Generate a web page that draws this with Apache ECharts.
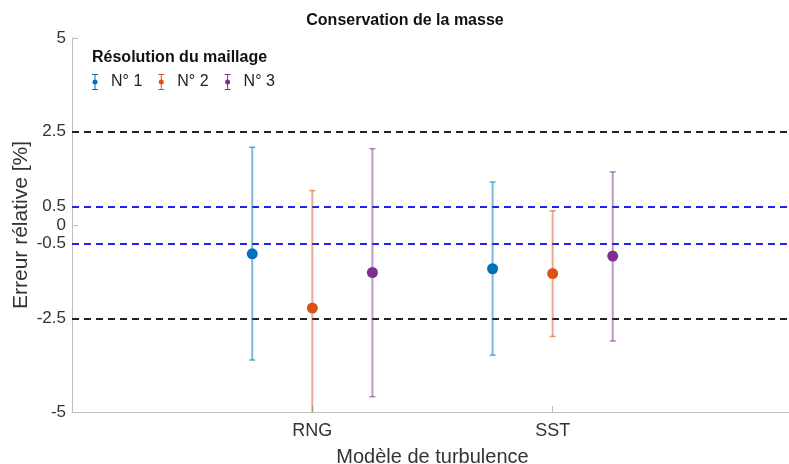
<!DOCTYPE html>
<html>
<head>
<meta charset="utf-8">
<script src="https://cdn.jsdelivr.net/npm/echarts@6/dist/echarts.min.js"></script>
<style>html,body{margin:0;padding:0;background:#fff;}#c{width:789px;height:464px;}</style>
</head>
<body>
<div id="c"></div>
<script>
// ---- data ----
const categories = ['RNG', 'SST'];
const seriesNames = ['N° 1', 'N° 2', 'N° 3'];
const n1Mean = [-0.77, -1.17];
const n1Low  = [-3.61, -3.48];
const n1High = [2.08, 1.15];
const n2Mean = [-2.22, -1.30];
const n2Low  = [-5.36, -2.98];
const n2High = [0.92, 0.38];
const n3Mean = [-1.27, -0.83];
const n3Low  = [-4.59, -3.10];
const n3High = [2.04, 1.42];
const yTicks = [-5, -2.5, -0.5, 0, 0.5, 2.5, 5];
const blackRefs = [2.5, -2.5];
const blueRefs = [0.5, -0.5];

const colors = ['#0072BD', '#D95319', '#7E2F8E'];
const dodge = [-0.25, 0, 0.25];
const groups = [[n1Mean, n1Low, n1High], [n2Mean, n2Low, n2High], [n3Mean, n3Low, n3High]];

const FONT = 'Liberation Sans, Arial, Helvetica, sans-serif';
const chart = echarts.init(document.getElementById('c'), null, {renderer: 'canvas'});

function makeRender(color) {
  return function (params, api) {
    const x = api.value(0);
    const m = api.coord([x, api.value(1)]);
    const lo = api.coord([x, api.value(2)]);
    const hi = api.coord([x, api.value(3)]);
    const cs = params.coordSys;
    const bottom = cs.y + cs.height, top = cs.y;
    const loY = Math.min(lo[1], bottom), hiY = Math.max(hi[1], top);
    const cap = 3;
    const children = [
      {type: 'line', shape: {x1: m[0], y1: hiY, x2: m[0], y2: loY},
       style: {stroke: color, lineWidth: 2, opacity: 0.5}},
    ];
    if (hi[1] >= top) children.push({type: 'line', shape: {x1: m[0]-cap, y1: hi[1], x2: m[0]+cap, y2: hi[1]}, style: {stroke: color, lineWidth: 1.5, opacity: 0.6}});
    if (lo[1] <= bottom) children.push({type: 'line', shape: {x1: m[0]-cap, y1: lo[1], x2: m[0]+cap, y2: lo[1]}, style: {stroke: color, lineWidth: 1.5, opacity: 0.6}});
    children.push({type: 'circle', shape: {cx: m[0], cy: m[1], r: 5.5}, style: {fill: color}});
    return {type: 'group', children: children};
  };
}

const iconPath = 'path://M1,0 L7,0 L7,1 L4.5,1 L4.5,15 L7,15 L7,16 L1,16 L1,15 L3.5,15 L3.5,1 L1,1 Z M4,5.5 A2.5,2.5 0 1,1 4,10.5 A2.5,2.5 0 1,1 4,5.5 Z';

const series = groups.map((g, si) => ({
  type: 'custom',
  name: seriesNames[si],
  clip: true,
  color: colors[si],
  itemStyle: {color: colors[si]},
  renderItem: makeRender(colors[si]),
  encode: {x: 0, y: [1, 2, 3]},
  data: categories.map((c, ci) => [ci + 1 + dodge[si], g[0][ci], g[1][ci], g[2][ci]]),
  z: 5
}));

series.push({
  type: 'line', data: [], silent: true,
  markLine: {
    silent: true, symbol: 'none', label: {show: false},
    data: blackRefs.map(v => ({yAxis: v, lineStyle: {color: '#222', type: [7, 5], width: 2}}))
      .concat(blueRefs.map(v => ({yAxis: v, lineStyle: {color: '#2222ee', type: [7, 5], width: 2}})))
  },
  z: 2
});

chart.setOption({
  animation: false,
  backgroundColor: '#fff',
  color: colors,
  title: [
    {text: 'Conservation de la masse', left: 400, top: 8, textAlign: 'center',
     textStyle: {fontFamily: FONT, fontSize: 16, fontWeight: 'bold', color: '#111'}},
    {text: 'Résolution du maillage', left: 92, top: 50, padding: 0,
     textStyle: {fontFamily: FONT, fontSize: 16, fontWeight: 'bold', color: '#111'}}
  ],
  legend: {
    left: 92, top: 74, padding: 0, itemWidth: 8, itemHeight: 16, itemGap: 16,
    icon: iconPath,
    data: seriesNames,
    textStyle: {fontFamily: FONT, fontSize: 16, color: '#222', padding: [0, 0, 0, 7]}
  },
  grid: {left: 72, right: -4, top: 38, bottom: 52, containLabel: false, outerBoundsMode: 'none'},
  xAxis: {
    type: 'value', min: 0, max: 3, interval: 1,
    name: 'Modèle de turbulence', nameLocation: 'middle', nameGap: 35,
    nameTextStyle: {fontFamily: FONT, fontSize: 20, color: '#333'},
    axisLine: {show: true, onZero: false, lineStyle: {color: '#bdbdbd', width: 1}},
    axisTick: {show: true, inside: true, length: 6, customValues: [1, 2], lineStyle: {color: '#bdbdbd'}},
    axisLabel: {customValues: [1, 2], formatter: v => categories[Math.round(v) - 1] || '', margin: 10,
      fontFamily: FONT, fontSize: 18, color: '#333'},
    splitLine: {show: false}
  },
  yAxis: {
    type: 'value', min: -5, max: 5,
    name: 'Erreur rélative [%]', nameLocation: 'middle', nameGap: 40, nameMoveOverlap: false,
    nameTextStyle: {fontFamily: FONT, fontSize: 21, color: '#333'},
    axisLine: {show: true, onZero: false, lineStyle: {color: '#bdbdbd', width: 1}},
    axisTick: {show: true, inside: true, length: 6, customValues: yTicks, lineStyle: {color: '#bdbdbd'}},
    axisLabel: {customValues: yTicks, margin: 6, fontFamily: FONT, fontSize: 17, color: '#333'},
    splitLine: {show: false}
  },
  series: series
});
</script>
</body>
</html>
